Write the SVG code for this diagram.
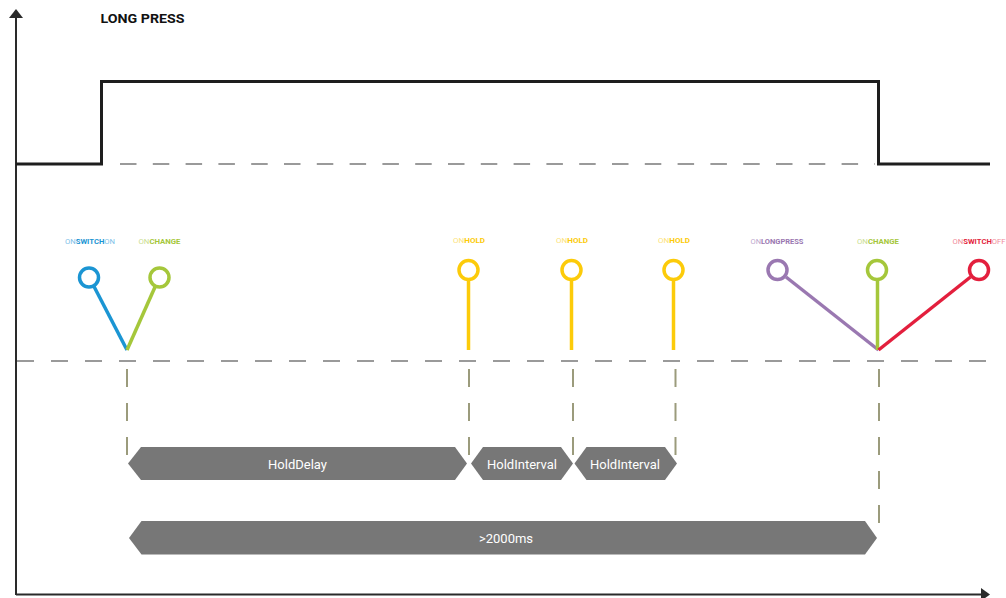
<svg xmlns="http://www.w3.org/2000/svg" width="1006" height="598" viewBox="0 0 1006 598">
<style>
.axis{stroke:#2a2a2a;stroke-width:2;fill:none}
.sig{stroke:#1e1e1e;stroke-width:3;fill:none}
.hdash{stroke:#9a9a9a;stroke-width:2;fill:none}
.vdash{stroke:#9b9b7c;stroke-width:2;fill:none;stroke-dasharray:18 16}
.ring{fill:#fff;stroke-width:3.5}
.stem{stroke-width:3.5;fill:none}
.lbl{font-family:Roboto,"Liberation Sans",sans-serif;font-size:7.5px;text-anchor:middle}
.b{font-weight:700}
.bar{fill:#777777}
.bt{font-family:Roboto,"Liberation Sans",sans-serif;font-size:13px;fill:#ffffff;text-anchor:middle}
.title{font-family:Roboto,"Liberation Sans",sans-serif;font-size:13.5px;font-weight:700;fill:#111}
</style>
<rect width="1006" height="598" fill="#ffffff"/>
<g id="axes">
<line class="axis" x1="16" y1="595" x2="16" y2="15"/>
<polygon points="16,9 9,18 23,18" fill="#2a2a2a"/>
<line class="axis" x1="16" y1="594.5" x2="983" y2="594.5"/>
<polygon points="990,594.5 981,588 981,601" fill="#2a2a2a"/>
</g>
<text class="title" x="100.5" y="22.7" textLength="84" lengthAdjust="spacingAndGlyphs">LONG PRESS</text>
<g id="signal">
<polyline class="sig" points="16,164 101.5,164 101.5,81.5 878.5,81.5 878.5,164 990,164"/>
</g>
<g id="guides">
<line class="hdash" x1="120" y1="164" x2="875" y2="164" stroke-dasharray="16.5 16.3"/>
<line class="hdash" x1="17" y1="361" x2="990" y2="361" stroke-dasharray="17 17"/>
<line class="vdash" x1="127" y1="369" x2="127" y2="456"/>
<line class="vdash" x1="469" y1="369" x2="469" y2="456"/>
<line class="vdash" x1="573" y1="369" x2="573" y2="456"/>
<line class="vdash" x1="675.5" y1="369" x2="675.5" y2="456"/>
<line class="vdash" x1="879" y1="369" x2="879" y2="523"/>
</g>
<g id="connectors">
<line class="stem" stroke="#1b95d3" x1="94" y1="286.5" x2="127" y2="350"/>
<line class="stem" stroke="#a5c73b" x1="155" y1="287" x2="127" y2="350"/>
<line class="stem" stroke="#fccb0a" x1="468.5" y1="281" x2="468.5" y2="350"/>
<line class="stem" stroke="#fccb0a" x1="571.5" y1="281" x2="571.5" y2="350"/>
<line class="stem" stroke="#fccb0a" x1="673.5" y1="281" x2="673.5" y2="350"/>
<line class="stem" stroke="#9a78b1" x1="786" y1="277" x2="878.5" y2="350"/>
<line class="stem" stroke="#a5c73b" x1="877.5" y1="281" x2="877.5" y2="350"/>
<line class="stem" stroke="#e31f3d" x1="970.5" y1="277" x2="878.5" y2="350"/>
</g>
<g id="onswitchon">
<circle class="ring" stroke="#1b95d3" cx="89" cy="277.5" r="9.5"/>
<text class="lbl" x="90" y="243.5" textLength="50" lengthAdjust="spacingAndGlyphs"><tspan fill="#7cc0e8">ON</tspan><tspan class="b" fill="#1b95d3">SWITCH</tspan><tspan fill="#7cc0e8">ON</tspan></text>
</g>
<g id="onchange1">
<circle class="ring" stroke="#a5c73b" cx="159.5" cy="277.5" r="9.5"/>
<text class="lbl" x="159.5" y="243.5" textLength="42" lengthAdjust="spacingAndGlyphs"><tspan fill="#cadd8f">ON</tspan><tspan class="b" fill="#a5c73b">CHANGE</tspan></text>
</g>
<g id="onhold1">
<circle class="ring" stroke="#fccb0a" cx="468.5" cy="270" r="9.5"/>
<text class="lbl" x="469" y="243" textLength="32" lengthAdjust="spacingAndGlyphs"><tspan fill="#fde27a">ON</tspan><tspan class="b" fill="#fccb0a">HOLD</tspan></text>
</g>
<g id="onhold2">
<circle class="ring" stroke="#fccb0a" cx="571.5" cy="270" r="9.5"/>
<text class="lbl" x="572" y="243" textLength="32" lengthAdjust="spacingAndGlyphs"><tspan fill="#fde27a">ON</tspan><tspan class="b" fill="#fccb0a">HOLD</tspan></text>
</g>
<g id="onhold3">
<circle class="ring" stroke="#fccb0a" cx="673.5" cy="270" r="9.5"/>
<text class="lbl" x="674" y="243" textLength="32" lengthAdjust="spacingAndGlyphs"><tspan fill="#fde27a">ON</tspan><tspan class="b" fill="#fccb0a">HOLD</tspan></text>
</g>
<g id="onlongpress">
<circle class="ring" stroke="#9a78b1" cx="777.5" cy="270" r="9.5"/>
<text class="lbl" x="777" y="243.5" textLength="53" lengthAdjust="spacingAndGlyphs"><tspan fill="#bba6cd">ON</tspan><tspan class="b" fill="#9a78b1">LONGPRESS</tspan></text>
</g>
<g id="onchange2">
<circle class="ring" stroke="#a5c73b" cx="877" cy="270" r="9.5"/>
<text class="lbl" x="878" y="243.5" textLength="42" lengthAdjust="spacingAndGlyphs"><tspan fill="#cadd8f">ON</tspan><tspan class="b" fill="#a5c73b">CHANGE</tspan></text>
</g>
<g id="onswitchoff">
<circle class="ring" stroke="#e31f3d" cx="979" cy="270" r="9.5"/>
<text class="lbl" x="979" y="243.5" textLength="53" lengthAdjust="spacingAndGlyphs"><tspan fill="#f08b99">ON</tspan><tspan class="b" fill="#e31f3d">SWITCH</tspan><tspan fill="#f08b99">OFF</tspan></text>
</g>
<g id="holddelay">
<polygon class="bar" points="128,463.5 141,447 455,447 467,463.5 455,480 141,480"/>
<text class="bt" x="297.5" y="468.5">HoldDelay</text>
</g>
<g id="holdinterval1">
<polygon class="bar" points="471,463.5 483,447 561,447 573,463.5 561,480 483,480"/>
<text class="bt" x="522" y="468.5">HoldInterval</text>
</g>
<g id="holdinterval2">
<polygon class="bar" points="574.5,463.5 586.5,447 665,447 677,463.5 665,480 586.5,480"/>
<text class="bt" x="625" y="468.5">HoldInterval</text>
</g>
<g id="total">
<polygon class="bar" points="129,538 141.5,521 865,521 877,538 865,554.5 141.5,554.5"/>
<text class="bt" x="506" y="543">&gt;2000ms</text>
</g>
</svg>
